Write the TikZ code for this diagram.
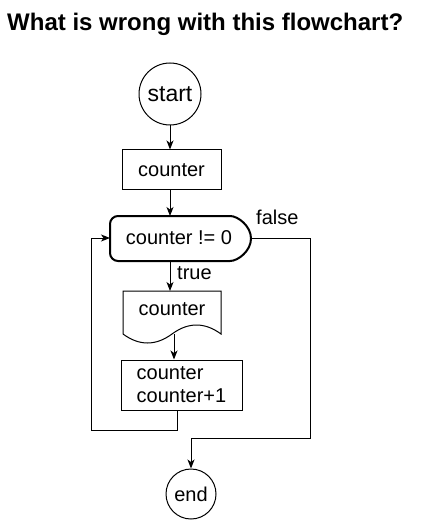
\documentclass[tikz,border=0pt]{standalone}
\usepackage{fontspec}
\setmainfont{Liberation Sans}
\usetikzlibrary{arrows.meta}
\begin{document}
\begin{tikzpicture}[x=1pt,y=-1pt,
  line/.style={draw=black, line width=1pt},
  arr/.style={line, -{Stealth[length=9pt,width=7pt,inset=2.5pt]}},
  lbl/.style={font=\fontsize{20}{24}\selectfont, inner sep=0pt},
  boxstyle/.style={rectangle, line, inner sep=0pt, font=\fontsize{20}{23}\selectfont},
  termstyle/.style={circle, line, inner sep=0pt},
]
\useasboundingbox (0,0) rectangle (442,521);
% title
\node[anchor=base west, inner sep=0pt, font=\bfseries\fontsize{24}{28}\selectfont] (title) at (7,31) {What is wrong with this flowchart?};
% start
\node[termstyle, minimum size=62pt, font=\fontsize{23}{26}\selectfont] (start) at (170,94) {start};
% counter box
\node[boxstyle, minimum width=99pt, minimum height=40pt] (c1) at (171.5,170) {counter};
% decision shape
\draw[line width=2pt, rounded corners=8pt] (160,216) -- (110,216) -- (110,261) -- (222,261)
  arc[start angle=90, end angle=-90, x radius=29, y radius=22.5] -- cycle;
\node[lbl] (dtext) at (179,238) {counter != 0};
\coordinate (dtop) at (170,216);
\coordinate (dbot) at (170,261);
\coordinate (dleft) at (110,238);
\coordinate (dtip) at (251,238);
% document shape
\draw[line] (123,291) -- (221,291) -- (221,334)
  .. controls (204.7,322) and (188.3,322) .. (172,334)
  .. controls (155.7,346) and (139.3,346) .. (123,334) -- cycle;
\node[lbl] (doc) at (172,309) {counter};
\coordinate (dtop2) at (170,291);
\coordinate (docbot) at (174,334);
% second box
\node[boxstyle, minimum width=121pt, minimum height=50pt, align=left] (c2) at (181.5,385) {counter\\counter+1};
% end
\node[termstyle, minimum size=50pt, font=\fontsize{20}{24}\selectfont] (end) at (191,494) {end};
% connectors
\draw[arr] (start.south) -- (start.south |- c1.north);
\draw[arr] (c1.south -| dtop) -- (dtop);
\draw[arr] (dbot) -- (dtop2);
\node[lbl, anchor=west] (truelbl) at (177,273) {true};
\draw[arr] (docbot) -- (docbot |- c2.north);
\coordinate (loopcorner) at (91,430);
\draw[arr] ([xshift=-4.5pt]c2.south) |- (loopcorner) |- (dleft);
\coordinate (fcorner) at (310,438);
\draw[arr] (dtip) -| (fcorner) -| (end.north);
\node[lbl, anchor=west] (falselbl) at (256,217) {false};
\end{tikzpicture}
\end{document}
